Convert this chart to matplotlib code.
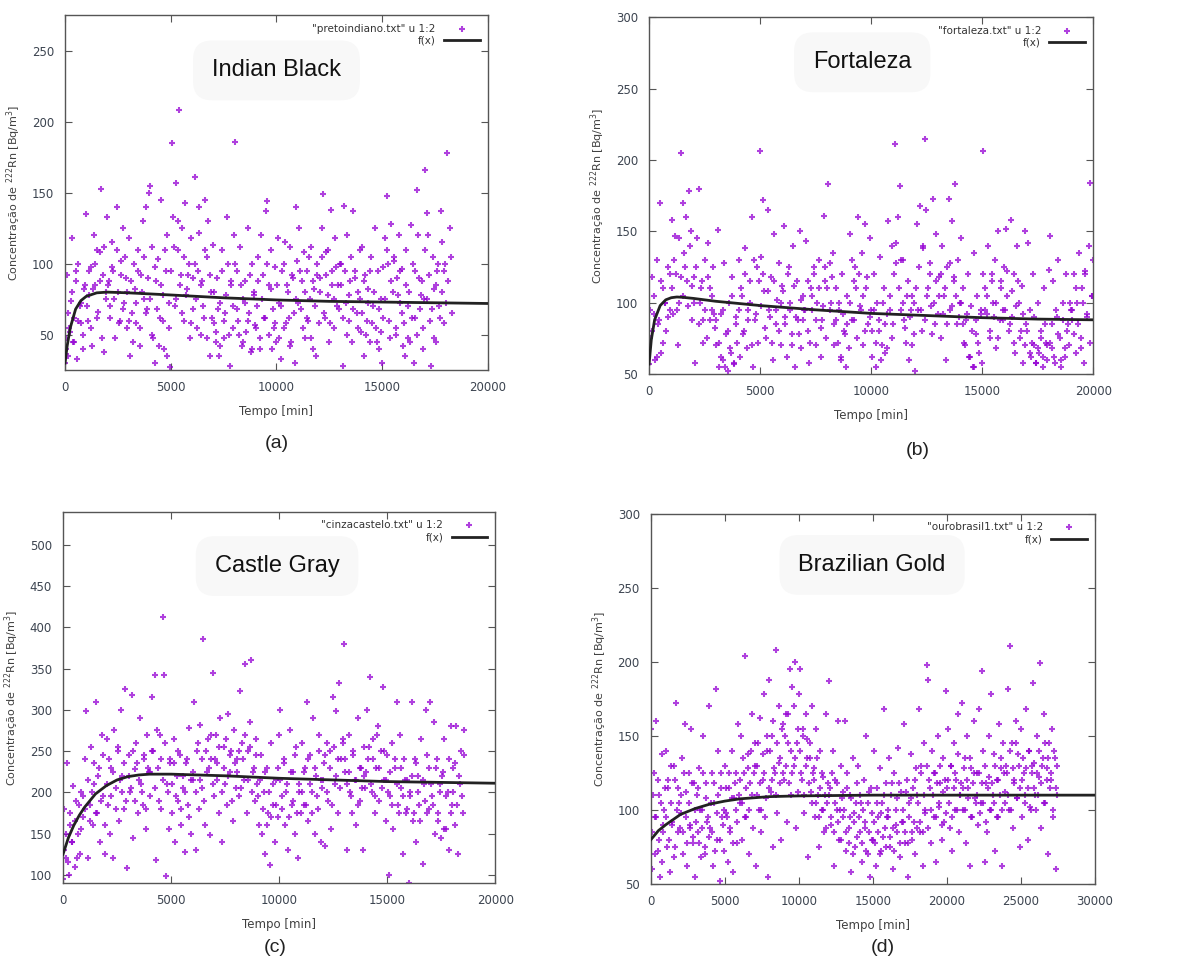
import numpy as np
import matplotlib
matplotlib.use('Agg')
import matplotlib.pyplot as plt

# ---------------- dados ----------------
# (a) Indian Black
ta = [0, 40, 90, 150, 200, 260, 320, 380, 430, 500, 560, 620, 690, 760, 840, 920,
      1010, 1080, 1150, 1220, 1290, 1360, 1430, 1500, 1570, 1640, 1710, 1780, 1850, 1930,
      2000, 2070, 2150, 2220, 2290, 2370, 2440, 2510, 2590, 2660, 2730, 2810, 2880, 2950,
      3020, 3090, 3160, 3240, 3310, 3380, 3450, 3530, 3600, 3670, 3740, 3820, 3890, 3960,
      4030, 4100, 4180, 4250, 4320, 4390, 4470, 4540, 4610, 4680, 4760, 4830, 4900, 4970,
      5040, 5110, 5190, 5260, 5330, 5400, 5480, 5550, 5620, 5690, 5770, 5840, 5910, 5980,
      6050, 6130, 6200, 6270, 6340, 6420, 6490, 6560, 6630, 6710, 6780, 6850, 6920, 6990,
      7060, 7140, 7210, 7280, 7350, 7430, 7500, 7570, 7640, 7720, 7790, 7860, 7930, 7990,
      8060, 8130, 8200, 8280, 8350, 8420, 8490, 8570, 8640, 8710, 8780, 8860, 8930, 8990,
      9060, 9140, 9210, 9280, 9350, 9430, 9500, 9570, 9640, 9720, 9790, 9860, 9930, 9990,
      10060, 10130, 10200, 10280, 10350, 10420, 10490, 10570, 10640, 10710, 10780, 10860, 10930, 10990,
      11060, 11140, 11210, 11280, 11350, 11430, 11500, 11570, 11640, 11720, 11790, 11860, 11930, 11990,
      12060, 12130, 12200, 12280, 12350, 12420, 12490, 12570, 12640, 12710, 12780, 12860, 12930, 12990,
      13060, 13140, 13210, 13280, 13350, 13430, 13500, 13570, 13640, 13720, 13790, 13860, 13930, 13990,
      14060, 14130, 14200, 14280, 14350, 14420, 14490, 14570, 14640, 14710, 14780, 14860, 14930, 14990,
      15060, 15140, 15210, 15280, 15350, 15430, 15500, 15570, 15640, 15720, 15790, 15860, 15930, 15990,
      16060, 16130, 16200, 16280, 16350, 16420, 16490, 16570, 16640, 16710, 16780, 16860, 16930, 16990,
      17040, 17110, 17180, 17250, 17320, 17400, 17470, 17540, 17610, 17690, 17760, 17830, 17900, 17970,
      18050, 18120, 18200, 18290]
ya = [30, 48, 92, 35, 55, 74, 118, 45, 62, 88, 33, 100, 70, 58, 40, 82,
      135, 60, 78, 98, 42, 120, 85, 110, 66, 108, 153, 92, 38, 75,
      133, 88, 70, 115, 95, 48, 140, 80, 60, 102, 125, 72, 90, 55,
      118, 35, 65, 100, 82, 58, 110, 42, 92, 130, 75, 140, 68, 150,
      155, 112, 48, 30, 88, 103, 62, 145, 78, 40, 95, 120, 55, 27,
      185, 133, 70, 157, 110, 208, 92, 125, 60, 143, 82, 100, 48, 118,
      90, 161, 75, 95, 140, 50, 88, 62, 145, 105, 130, 35, 80, 113,
      58, 45, 90, 35, 72, 110, 48, 65, 133, 100, 28, 85, 55, 120,
      186, 95, 60, 112, 42, 75, 88, 52, 125, 65, 38, 100, 80, 57,
      70, 105, 48, 120, 92, 62, 137, 144, 85, 110, 40, 55, 98, 45,
      118, 72, 33, 95, 55, 115, 85, 62, 112, 45, 90, 30, 140, 102,
      125, 68, 88, 108, 48, 95, 60, 75, 112, 40, 82, 35, 100, 58,
      90, 125, 149, 62, 108, 78, 45, 138, 95, 55, 118, 70, 85, 100,
      100, 28, 141, 72, 120, 60, 88, 45, 137, 95, 65, 80, 110, 52,
      112, 35, 92, 60, 82, 45, 105, 70, 125, 55, 95, 40, 75, 30,
      62, 118, 148, 100, 48, 128, 80, 105, 55, 90, 120, 72, 96, 42,
      35, 110, 48, 80, 127, 62, 30, 95, 152, 120, 68, 88, 40, 75,
      166, 136, 120, 60, 28, 105, 82, 45, 95, 70, 137, 115, 58, 100,
      178, 88, 125, 65]
ta2 = [35, 135, 235, 335, 435, 535, 635, 735, 835, 935,
       1035, 1135, 1235, 1335, 1435, 1535, 1635, 1735, 1835, 1935,
       2035, 2135, 2235, 2335, 2435, 2535, 2635, 2735, 2835, 2935,
       3035, 3135, 3235, 3335, 3435, 3535, 3635, 3735, 3835, 3935,
       4035, 4135, 4235, 4335, 4435, 4535, 4635, 4735, 4835, 4935,
       5035, 5135, 5235, 5335, 5435, 5535, 5635, 5735, 5835, 5935,
       6035, 6135, 6235, 6335, 6435, 6535, 6635, 6735, 6835, 6935,
       7035, 7135, 7235, 7335, 7435, 7535, 7635, 7735, 7835, 7935,
       8035, 8135, 8235, 8335, 8435, 8535, 8635, 8735, 8835, 8935,
       9035, 9135, 9235, 9335, 9435, 9535, 9635, 9735, 9835, 9935,
       10035, 10135, 10235, 10335, 10435, 10535, 10635, 10735, 10835, 10935,
       11035, 11135, 11235, 11335, 11435, 11535, 11635, 11735, 11835, 11935,
       12035, 12135, 12235, 12335, 12435, 12535, 12635, 12735, 12835, 12935,
       13035, 13135, 13235, 13335, 13435, 13535, 13635, 13735, 13835, 13935,
       14035, 14135, 14235, 14335, 14435, 14535, 14635, 14735, 14835, 14935,
       15035, 15135, 15235, 15335, 15435, 15535, 15635, 15735, 15835, 15935,
       16035, 16135, 16235, 16335, 16435, 16535, 16635, 16735, 16835, 16935,
       17035, 17135, 17235, 17335, 17435, 17535, 17635, 17735, 17835, 17935, 18035, 18235]
ya2 = [40, 65, 52, 80, 45, 95, 60, 72, 50, 85,
       70, 95, 55, 82, 100, 62, 88, 48, 112, 80,
       85, 62, 98, 75, 110, 58, 92, 68, 105, 80,
       60, 88, 45, 72, 95, 55, 80, 105, 65, 90,
       75, 50, 98, 68, 42, 85, 60, 110, 35, 72,
       95, 112, 75, 130, 85, 65, 105, 78, 92, 58,
       68, 100, 55, 122, 85, 70, 110, 48, 92, 62,
       80, 52, 68, 42, 95, 60, 78, 50, 88, 70,
       100, 68, 50, 85, 45, 72, 60, 92, 40, 78,
       55, 88, 40, 75, 62, 100, 50, 82, 68, 58,
       85, 48, 70, 100, 58, 80, 42, 92, 65, 75,
       72, 95, 55, 80, 62, 105, 48, 88, 70, 92,
       80, 105, 65, 92, 110, 58, 85, 75, 98, 68,
       85, 62, 95, 50, 78, 105, 68, 90, 55, 75,
       65, 88, 50, 72, 95, 58, 80, 45, 68, 52,
       98, 75, 110, 60, 88, 102, 50, 78, 95, 65,
       58, 85, 70, 45, 100, 62, 50, 90, 78, 55,
       110, 75, 92, 68, 48, 85, 100, 62, 80, 95, 72, 105]
fa_x = [0, 100, 250, 500, 750, 1000, 1500, 2000, 3000, 5000, 7500, 10000, 12500, 15000, 17500, 20000]
fa_y = [30, 42, 55, 68, 74, 77, 79.5, 80, 79.5, 78, 76, 74.5, 73.5, 73, 72.5, 72]

# (b) Fortaleza
tb = [0, 60, 130, 200, 270, 340, 410, 480, 550, 620, 700, 770, 840, 920,
      1010, 1080, 1150, 1230, 1300, 1370, 1440, 1510, 1590, 1660, 1730, 1800, 1870, 1950,
      2020, 2090, 2160, 2240, 2310, 2380, 2450, 2530, 2600, 2670, 2740, 2820, 2890, 2960,
      3030, 3100, 3170, 3250, 3320, 3390, 3460, 3540, 3610, 3680, 3750, 3830, 3900, 3970,
      4040, 4110, 4180, 4260, 4330, 4400, 4470, 4550, 4620, 4690, 4760, 4840, 4910, 4980,
      5050, 5120, 5190, 5270, 5340, 5410, 5480, 5560, 5630, 5700, 5770, 5850, 5920, 5990,
      6060, 6130, 6200, 6280, 6350, 6420, 6490, 6570, 6640, 6710, 6780, 6860, 6930, 6990,
      7060, 7140, 7210, 7280, 7350, 7430, 7500, 7570, 7640, 7720, 7790, 7860, 7930, 7990,
      8060, 8130, 8200, 8280, 8350, 8420, 8490, 8570, 8640, 8710, 8780, 8860, 8930, 8990,
      9060, 9140, 9210, 9280, 9350, 9430, 9500, 9570, 9640, 9720, 9790, 9860, 9930, 9990,
      10060, 10130, 10200, 10280, 10350, 10420, 10490, 10570, 10640, 10710, 10780, 10860, 10930, 10990,
      11060, 11140, 11210, 11280, 11350, 11430, 11500, 11570, 11640, 11720, 11790, 11860, 11930, 11990,
      12060, 12130, 12200, 12280, 12350, 12420, 12490, 12570, 12640, 12710, 12780, 12860, 12930, 12990,
      13060, 13140, 13210, 13280, 13350, 13430, 13500, 13570, 13640, 13720, 13790, 13860, 13930, 13990,
      14060, 14130, 14200, 14280, 14350, 14420, 14490, 14570, 14640, 14710, 14780, 14860, 14930, 14990,
      15060, 15140, 15210, 15280, 15350, 15430, 15500, 15570, 15640, 15720, 15790, 15860, 15930, 15990,
      16060, 16130, 16200, 16280, 16350, 16420, 16490, 16570, 16640, 16710, 16780, 16860, 16930, 16990,
      17060, 17140, 17210, 17280, 17350, 17430, 17500, 17570, 17640, 17720, 17790, 17860, 17930, 17990,
      18060, 18130, 18200, 18280, 18350, 18420, 18490, 18570, 18640, 18710, 18780, 18860, 18930, 18990,
      19060, 19140, 19210, 19280, 19350, 19430, 19500, 19570, 19640, 19720, 19790, 19860, 19930, 19990]
yb = [57, 75, 118, 92, 60, 130, 85, 170, 65, 110, 100, 80, 125, 95,
      158, 92, 147, 120, 70, 100, 205, 170, 135, 160, 115, 178, 150, 88,
      118, 58, 145, 180, 100, 115, 88, 130, 75, 142, 110, 95, 125, 82,
      70, 151, 55, 92, 60, 128, 78, 52, 100, 65, 118, 57, 85, 72,
      130, 62, 105, 80, 138, 68, 95, 115, 160, 55, 88, 125, 72, 206,
      132, 172, 108, 75, 165, 95, 118, 60, 148, 85, 102, 128, 70, 112,
      154, 90, 62, 125, 100, 78, 140, 55, 115, 88, 150, 68, 105, 95,
      143, 80, 58, 110, 95, 125, 70, 100, 130, 62, 88, 161, 115, 75,
      183, 128, 100, 135, 85, 110, 72, 95, 60, 120, 80, 55, 105, 68,
      148, 88, 115, 125, 75, 160, 98, 135, 70, 155, 110, 85, 145, 95,
      62, 120, 55, 100, 80, 132, 70, 110, 65, 92, 157, 105, 140, 85,
      211, 128, 160, 182, 130, 100, 88, 72, 115, 60, 95, 105, 78, 52,
      155, 95, 168, 80, 140, 215, 165, 110, 128, 98, 173, 85, 148, 92,
      118, 75, 140, 105, 60, 125, 173, 95, 157, 115, 183, 85, 130, 100,
      145, 110, 72, 88, 120, 62, 98, 55, 135, 78, 105, 65, 92, 58,
      206, 110, 92, 140, 75, 120, 100, 130, 68, 150, 88, 115, 95, 125,
      152, 105, 80, 158, 90, 120, 65, 140, 100, 75, 112, 58, 150, 85,
      142, 95, 62, 120, 70, 58, 100, 65, 80, 55, 110, 72, 60, 123,
      147, 68, 115, 58, 90, 130, 75, 55, 100, 62, 120, 85, 70, 95,
      88, 120, 65, 100, 135, 75, 110, 58, 122, 92, 140, 184, 105, 130]
tb2 = [35, 135, 235, 335, 435, 535, 635, 735, 835, 935,
       1035, 1135, 1235, 1335, 1435, 1535, 1635, 1735, 1835, 1935,
       2035, 2135, 2235, 2335, 2435, 2535, 2635, 2735, 2835, 2935,
       3035, 3135, 3235, 3335, 3435, 3535, 3635, 3735, 3835, 3935,
       4035, 4135, 4235, 4335, 4435, 4535, 4635, 4735, 4835, 4935,
       5035, 5135, 5235, 5335, 5435, 5535, 5635, 5735, 5835, 5935,
       6035, 6135, 6235, 6335, 6435, 6535, 6635, 6735, 6835, 6935,
       7035, 7135, 7235, 7335, 7435, 7535, 7635, 7735, 7835, 7935,
       8035, 8135, 8235, 8335, 8435, 8535, 8635, 8735, 8835, 8935,
       9035, 9135, 9235, 9335, 9435, 9535, 9635, 9735, 9835, 9935,
       10035, 10135, 10235, 10335, 10435, 10535, 10635, 10735, 10835, 10935,
       11035, 11135, 11235, 11335, 11435, 11535, 11635, 11735, 11835, 11935,
       12035, 12135, 12235, 12335, 12435, 12535, 12635, 12735, 12835, 12935,
       13035, 13135, 13235, 13335, 13435, 13535, 13635, 13735, 13835, 13935,
       14035, 14135, 14235, 14335, 14435, 14535, 14635, 14735, 14835, 14935,
       15035, 15135, 15235, 15335, 15435, 15535, 15635, 15735, 15835, 15935,
       16035, 16135, 16235, 16335, 16435, 16535, 16635, 16735, 16835, 16935,
       17035, 17135, 17235, 17335, 17435, 17535, 17635, 17735, 17835, 17935,
       18035, 18135, 18235, 18335, 18435, 18535, 18635, 18735, 18835, 18935,
       19035, 19135, 19235, 19335, 19435, 19535, 19635, 19735, 19835, 19935]
yb2 = [95, 80, 105, 62, 88, 115, 72, 100, 90, 120,
       110, 130, 95, 145, 118, 105, 125, 98, 140, 112,
       100, 125, 85, 110, 72, 95, 118, 88, 105, 92,
       88, 72, 62, 95, 55, 80, 68, 105, 58, 90,
       95, 110, 78, 120, 88, 100, 70, 130, 92, 115,
       98, 120, 82, 108, 90, 72, 115, 95, 80, 100,
       108, 85, 120, 95, 70, 112, 90, 78, 102, 88,
       95, 115, 72, 105, 120, 88, 110, 82, 98, 125,
       110, 95, 118, 70, 88, 100, 62, 92, 78, 85,
       100, 130, 88, 110, 120, 95, 105, 80, 118, 90,
       80, 95, 72, 88, 60, 100, 85, 68, 95, 75,
       120, 142, 110, 95, 130, 82, 105, 90, 70, 100,
       110, 125, 95, 138, 88, 105, 120, 78, 100, 115,
       105, 120, 92, 110, 85, 128, 98, 118, 105, 90,
       100, 85, 70, 92, 62, 80, 55, 88, 72, 95,
       120, 95, 105, 80, 115, 90, 100, 75, 110, 88,
       95, 122, 85, 108, 72, 98, 115, 80, 92, 70,
       80, 65, 72, 90, 58, 68, 75, 62, 85, 70,
       72, 85, 62, 95, 78, 60, 88, 68, 80, 100,
       95, 78, 110, 85, 68, 100, 120, 90, 72, 105]
fb_x = [0, 100, 250, 500, 750, 1000, 1250, 1500, 2000, 3000, 5000, 7500, 10000, 12500, 15000, 17500, 20000]
fb_y = [57, 74, 88, 98, 102, 103.5, 104, 103.8, 103, 101, 98, 95, 92.5, 91, 89.5, 88.5, 88]

# (c) Castle Gray
tc = [0, 60, 130, 200, 270, 340, 410, 480, 550, 620, 700, 770, 840, 920,
      1010, 1080, 1150, 1230, 1300, 1370, 1440, 1510, 1590, 1660, 1730, 1800, 1870, 1950,
      2020, 2090, 2160, 2240, 2310, 2380, 2450, 2530, 2600, 2670, 2740, 2820, 2890, 2960,
      3030, 3100, 3170, 3250, 3320, 3390, 3460, 3540, 3610, 3680, 3750, 3830, 3900, 3970,
      4040, 4110, 4180, 4250, 4320, 4390, 4470, 4540, 4610, 4680, 4760, 4830, 4900, 4970,
      5050, 5120, 5190, 5270, 5340, 5410, 5480, 5560, 5630, 5700, 5770, 5850, 5920, 5990,
      6060, 6130, 6200, 6280, 6350, 6420, 6490, 6570, 6640, 6710, 6780, 6850, 6920, 6990,
      7060, 7140, 7210, 7280, 7350, 7430, 7500, 7570, 7640, 7720, 7790, 7860, 7930, 7990,
      8060, 8130, 8200, 8280, 8350, 8420, 8490, 8570, 8640, 8710, 8780, 8860, 8930, 8990,
      9060, 9140, 9210, 9280, 9350, 9430, 9500, 9570, 9640, 9720, 9790, 9860, 9930, 9990,
      10060, 10130, 10200, 10280, 10350, 10420, 10490, 10570, 10640, 10710, 10780, 10860, 10930, 10990,
      11060, 11140, 11210, 11280, 11350, 11430, 11500, 11570, 11640, 11720, 11790, 11860, 11930, 11990,
      12060, 12130, 12200, 12280, 12350, 12420, 12490, 12570, 12640, 12710, 12780, 12860, 12930, 12990,
      13060, 13140, 13210, 13280, 13350, 13430, 13500, 13570, 13640, 13720, 13790, 13860, 13930, 13990,
      14060, 14130, 14200, 14280, 14350, 14420, 14490, 14570, 14640, 14710, 14780, 14860, 14930, 14990,
      15060, 15140, 15210, 15280, 15350, 15430, 15500, 15570, 15640, 15720, 15790, 15860, 15930, 15990,
      16060, 16130, 16200, 16280, 16350, 16420, 16490, 16570, 16640, 16710, 16780, 16860, 16930, 16990,
      17060, 17140, 17210, 17280, 17350, 17430, 17500, 17570, 17640, 17720, 17790, 17860, 17930, 17990,
      18060, 18130, 18200, 18280, 18350, 18420, 18490, 18560]
yc = [95, 180, 120, 235, 100, 160, 140, 208, 110, 190, 150, 125, 200, 170,
      240, 298, 120, 185, 255, 160, 210, 310, 175, 230, 140, 270, 195, 125,
      265, 185, 150, 230, 120, 275, 205, 250, 165, 300, 220, 180, 325, 108,
      245, 200, 318, 145, 228, 260, 175, 290, 210, 185, 240, 155, 270, 225,
      195, 315, 250, 342, 118, 230, 270, 180, 413, 342, 98, 210, 155, 240,
      175, 265, 140, 220, 190, 245, 160, 205, 128, 235, 185, 278, 150, 215,
      310, 130, 250, 180, 282, 205, 386, 160, 225, 265, 148, 240, 345, 195,
      270, 235, 175, 290, 140, 255, 210, 185, 295, 225, 250, 165, 275, 205,
      240, 195, 323, 260, 215, 355, 175, 250, 285, 360, 225, 190, 265, 210,
      160, 245, 150, 200, 125, 230, 175, 112, 260, 185, 140, 215, 170, 270,
      300, 195, 240, 160, 210, 130, 275, 185, 225, 150, 255, 120, 200, 175,
      260, 185, 230, 310, 165, 245, 200, 290, 150, 220, 180, 270, 140, 205,
      235, 135, 260, 190, 250, 155, 315, 210, 298, 175, 333, 240, 265, 380,
      225, 130, 270, 200, 175, 245, 215, 160, 290, 190, 230, 130, 255, 205,
      300, 240, 340, 200, 265, 175, 230, 280, 190, 250, 328, 215, 165, 245,
      100, 195, 260, 155, 230, 310, 185, 270, 205, 125, 240, 175, 215, 90,
      200, 310, 165, 240, 140, 220, 185, 265, 113, 210, 300, 175, 230, 310,
      195, 285, 150, 240, 175, 210, 145, 225, 265, 155, 200, 130, 280, 185,
      230, 160, 280, 125, 210, 250, 175, 275]
tc2 = [35, 135, 235, 335, 435, 535, 635, 735, 835, 935,
       1035, 1135, 1235, 1335, 1435, 1535, 1635, 1735, 1835, 1935,
       2035, 2135, 2235, 2335, 2435, 2535, 2635, 2735, 2835, 2935,
       3035, 3135, 3235, 3335, 3435, 3535, 3635, 3735, 3835, 3935,
       4035, 4135, 4235, 4335, 4435, 4535, 4635, 4735, 4835, 4935,
       5035, 5135, 5235, 5335, 5435, 5535, 5635, 5735, 5835, 5935,
       6035, 6135, 6235, 6335, 6435, 6535, 6635, 6735, 6835, 6935,
       7035, 7135, 7235, 7335, 7435, 7535, 7635, 7735, 7835, 7935,
       8035, 8135, 8235, 8335, 8435, 8535, 8635, 8735, 8835, 8935,
       9035, 9135, 9235, 9335, 9435, 9535, 9635, 9735, 9835, 9935,
       10035, 10135, 10235, 10335, 10435, 10535, 10635, 10735, 10835, 10935,
       11035, 11135, 11235, 11335, 11435, 11535, 11635, 11735, 11835, 11935,
       12035, 12135, 12235, 12335, 12435, 12535, 12635, 12735, 12835, 12935,
       13035, 13135, 13235, 13335, 13435, 13535, 13635, 13735, 13835, 13935,
       14035, 14135, 14235, 14335, 14435, 14535, 14635, 14735, 14835, 14935,
       15035, 15135, 15235, 15335, 15435, 15535, 15635, 15735, 15835, 15935,
       16035, 16135, 16235, 16335, 16435, 16535, 16635, 16735, 16835, 16935,
       17035, 17135, 17235, 17335, 17435, 17535, 17635, 17735, 17835, 17935,
       18035, 18135, 18235, 18335, 18435, 18535]
yc2 = [130, 150, 115, 175, 140, 165, 120, 185, 155, 195,
       180, 215, 165, 200, 235, 175, 220, 190, 245, 160,
       210, 240, 195, 225, 180, 255, 215, 200, 235, 190,
       220, 205, 250, 190, 235, 215, 200, 245, 180, 230,
       225, 250, 205, 275, 190, 240, 215, 260, 200, 235,
       210, 235, 195, 250, 180, 220, 200, 240, 170, 215,
       225, 200, 260, 215, 240, 190, 250, 230, 270, 210,
       240, 215, 255, 200, 230, 265, 220, 245, 190, 235,
       225, 250, 205, 240, 270, 215, 255, 200, 230, 245,
       195, 215, 180, 225, 160, 200, 170, 210, 185, 230,
       215, 180, 235, 200, 170, 225, 190, 245, 175, 210,
       200, 225, 185, 240, 210, 175, 230, 195, 250, 215,
       215, 245, 200, 230, 185, 255, 220, 240, 205, 260,
       240, 210, 225, 195, 250, 215, 185, 230, 205, 220,
       225, 255, 210, 240, 195, 270, 230, 205, 250, 215,
       200, 225, 185, 240, 210, 175, 230, 195, 215, 180,
       195, 220, 175, 235, 200, 165, 215, 190, 245, 180,
       210, 185, 230, 165, 200, 220, 155, 195, 240, 175,
       200, 235, 185, 220, 195, 245]
fc_x = [0, 250, 500, 750, 1000, 1500, 2000, 2500, 3000, 3500, 4000, 5000, 7500, 10000, 12500, 15000, 17500, 20000]
fc_y = [125, 145, 160, 172, 182, 198, 208, 215, 219, 221, 222, 222, 220, 217, 215, 213, 212, 211]

# (d) Brazilian Gold
td = [0, 90, 180, 270, 360, 450, 540, 630, 720, 810, 900,
      1000, 1090, 1180, 1270, 1360, 1450, 1540, 1630, 1720, 1810, 1900,
      2000, 2090, 2180, 2270, 2360, 2450, 2540, 2630, 2720, 2810, 2900,
      3000, 3090, 3180, 3270, 3360, 3450, 3540, 3630, 3720, 3810, 3900,
      4000, 4090, 4180, 4270, 4360, 4450, 4540, 4630, 4720, 4810, 4900,
      5000, 5090, 5180, 5270, 5360, 5450, 5540, 5630, 5720, 5810, 5900,
      6000, 6090, 6180, 6270, 6360, 6450, 6540, 6630, 6720, 6810, 6900,
      7000, 7090, 7180, 7270, 7360, 7450, 7540, 7630, 7720, 7810, 7900,
      8000, 8090, 8180, 8270, 8360, 8450, 8540, 8630, 8720, 8810, 8900,
      9000, 9090, 9180, 9270, 9360, 9450, 9540, 9630, 9720, 9810, 9900,
      10000, 10090, 10180, 10270, 10360, 10450, 10540, 10630, 10720, 10810, 10900,
      11000, 11090, 11180, 11270, 11360, 11450, 11540, 11630, 11720, 11810, 11900,
      12000, 12090, 12180, 12270, 12360, 12450, 12540, 12630, 12720, 12810, 12900,
      13000, 13090, 13180, 13270, 13360, 13450, 13540, 13630, 13720, 13810, 13900,
      14000, 14090, 14180, 14270, 14360, 14450, 14540, 14630, 14720, 14810, 14900,
      15000, 15090, 15180, 15270, 15360, 15450, 15540, 15630, 15720, 15810, 15900,
      16000, 16090, 16180, 16270, 16360, 16450, 16540, 16630, 16720, 16810, 16900,
      17000, 17090, 17180, 17270, 17360, 17450, 17540, 17630, 17720, 17810, 17900,
      18000, 18090, 18180, 18270, 18360, 18450, 18540, 18630, 18720, 18810, 18900,
      19000, 19090, 19180, 19270, 19360, 19450, 19540, 19630, 19720, 19810, 19900,
      20000, 20090, 20180, 20270, 20360, 20450, 20540, 20630, 20720, 20810, 20900,
      21000, 21090, 21180, 21270, 21360, 21450, 21540, 21630, 21720, 21810, 21900,
      22000, 22090, 22180, 22270, 22360, 22450, 22540, 22630, 22720, 22810, 22900,
      23000, 23090, 23180, 23270, 23360, 23450, 23540, 23630, 23720, 23810, 23900,
      24000, 24090, 24180, 24270, 24360, 24450, 24540, 24630, 24720, 24810, 24900,
      25000, 25090, 25180, 25270, 25360, 25450, 25540, 25630, 25720, 25810, 25900,
      26000, 26090, 26180, 26270, 26360, 26450, 26540, 26630, 26720, 26810, 26900,
      27000, 27090, 27180, 27270, 27360, 27450]
yd = [155, 60, 125, 95, 160, 72, 110, 55, 138, 85, 100,
      140, 75, 115, 58, 130, 92, 68, 120, 172, 85, 105,
      98, 135, 70, 158, 112, 62, 125, 88, 155, 78, 118,
      55, 110, 85, 128, 68, 100, 150, 75, 118, 92, 170,
      88, 125, 62, 105, 182, 80, 140, 52, 115, 95, 72,
      130, 98, 65, 115, 85, 140, 58, 108, 125, 78, 158,
      105, 150, 80, 125, 204, 95, 138, 70, 118, 165, 88,
      145, 62, 130, 100, 162, 85, 120, 178, 95, 140, 55,
      188, 112, 150, 75, 125, 208, 98, 170, 135, 80, 158,
      120, 165, 92, 145, 195, 110, 183, 130, 200, 88, 155,
      178, 195, 120, 150, 98, 165, 135, 68, 145, 112, 170,
      128, 95, 155, 110, 75, 140, 100, 122, 85, 165, 105,
      187, 115, 90, 140, 62, 120, 100, 160, 80, 130, 108,
      95, 160, 72, 125, 88, 110, 58, 135, 98, 75, 118,
      130, 85, 105, 65, 120, 92, 150, 70, 112, 55, 98,
      80, 140, 62, 115, 95, 128, 72, 105, 168, 88, 118,
      100, 135, 75, 118, 60, 125, 90, 108, 142, 68, 112,
      92, 158, 78, 120, 55, 105, 138, 85, 115, 70, 128,
      110, 168, 85, 130, 62, 145, 100, 198, 188, 120, 78,
      140, 95, 125, 65, 150, 105, 118, 80, 135, 92, 180,
      115, 155, 88, 130, 72, 145, 100, 120, 165, 85, 110,
      172, 100, 135, 78, 150, 115, 62, 128, 95, 160, 108,
      125, 90, 168, 105, 194, 140, 65, 118, 85, 150, 100,
      178, 110, 138, 72, 120, 95, 158, 128, 62, 145, 105,
      130, 182, 100, 211, 145, 88, 120, 160, 108, 138, 75,
      155, 95, 125, 110, 168, 80, 140, 102, 130, 186, 115,
      100, 150, 122, 199, 88, 135, 165, 105, 128, 70, 145,
      120, 155, 95, 135, 60, 110]
td2 = [45, 145, 245, 345, 445, 545, 645, 745, 845, 945,
       1045, 1145, 1245, 1345, 1445, 1545, 1645, 1745, 1845, 1945,
       2045, 2145, 2245, 2345, 2445, 2545, 2645, 2745, 2845, 2945,
       3045, 3145, 3245, 3345, 3445, 3545, 3645, 3745, 3845, 3945,
       4045, 4145, 4245, 4345, 4445, 4545, 4645, 4745, 4845, 4945,
       5045, 5145, 5245, 5345, 5445, 5545, 5645, 5745, 5845, 5945,
       6045, 6145, 6245, 6345, 6445, 6545, 6645, 6745, 6845, 6945,
       7045, 7145, 7245, 7345, 7445, 7545, 7645, 7745, 7845, 7945,
       8045, 8145, 8245, 8345, 8445, 8545, 8645, 8745, 8845, 8945,
       9045, 9145, 9245, 9345, 9445, 9545, 9645, 9745, 9845, 9945,
       10045, 10145, 10245, 10345, 10445, 10545, 10645, 10745, 10845, 10945,
       11045, 11145, 11245, 11345, 11445, 11545, 11645, 11745, 11845, 11945,
       12045, 12145, 12245, 12345, 12445, 12545, 12645, 12745, 12845, 12945,
       13045, 13145, 13245, 13345, 13445, 13545, 13645, 13745, 13845, 13945,
       14045, 14145, 14245, 14345, 14445, 14545, 14645, 14745, 14845, 14945,
       15045, 15145, 15245, 15345, 15445, 15545, 15645, 15745, 15845, 15945,
       16045, 16145, 16245, 16345, 16445, 16545, 16645, 16745, 16845, 16945,
       17045, 17145, 17245, 17345, 17445, 17545, 17645, 17745, 17845, 17945,
       18045, 18145, 18245, 18345, 18445, 18545, 18645, 18745, 18845, 18945,
       19045, 19145, 19245, 19345, 19445, 19545, 19645, 19745, 19845, 19945,
       20045, 20145, 20245, 20345, 20445, 20545, 20645, 20745, 20845, 20945,
       21045, 21145, 21245, 21345, 21445, 21545, 21645, 21745, 21845, 21945,
       22045, 22145, 22245, 22345, 22445, 22545, 22645, 22745, 22845, 22945,
       23045, 23145, 23245, 23345, 23445, 23545, 23645, 23745, 23845, 23945,
       24045, 24145, 24245, 24345, 24445, 24545, 24645, 24745, 24845, 24945,
       25045, 25145, 25245, 25345, 25445, 25545, 25645, 25745, 25845, 25945,
       26045, 26145, 26245, 26345, 26445, 26545, 26645, 26745, 26845, 26945,
       27035, 27135, 27235, 27335, 27435]
yd2 = [85, 110, 70, 95, 120, 80, 105, 65, 90, 115,
       95, 120, 80, 105, 90, 130, 75, 100, 115, 88,
       110, 85, 125, 95, 78, 105, 90, 118, 82, 100,
       92, 115, 78, 100, 88, 125, 70, 108, 95, 82,
       105, 85, 118, 72, 98, 110, 80, 125, 90, 100,
       115, 95, 125, 88, 108, 78, 118, 100, 92, 110,
       120, 105, 135, 95, 115, 128, 100, 140, 110, 125,
       130, 110, 145, 118, 100, 138, 125, 108, 150, 115,
       140, 120, 160, 128, 110, 145, 132, 118, 155, 125,
       150, 130, 165, 118, 140, 125, 170, 135, 145, 112,
       140, 125, 155, 110, 130, 148, 118, 135, 105, 125,
       120, 105, 135, 95, 115, 125, 100, 110, 88, 118,
       110, 95, 125, 85, 105, 118, 92, 100, 80, 112,
       100, 85, 115, 78, 95, 108, 70, 92, 105, 82,
       95, 110, 78, 100, 88, 72, 105, 85, 115, 80,
       92, 78, 105, 85, 70, 98, 82, 110, 75, 95,
       95, 82, 110, 88, 72, 100, 85, 118, 78, 92,
       100, 85, 112, 78, 95, 108, 80, 92, 120, 88,
       105, 92, 125, 85, 110, 98, 130, 88, 115, 100,
       110, 125, 95, 118, 102, 130, 90, 112, 120, 98,
       120, 105, 130, 95, 115, 125, 100, 138, 110, 118,
       115, 128, 100, 120, 108, 135, 95, 118, 125, 105,
       110, 125, 98, 118, 105, 130, 92, 115, 122, 100,
       118, 105, 130, 95, 120, 110, 135, 100, 125, 112,
       125, 110, 140, 100, 128, 118, 145, 108, 130, 115,
       120, 135, 105, 128, 115, 140, 100, 125, 132, 110,
       125, 110, 140, 118, 130, 105, 145, 120, 135, 115,
       125, 100, 140, 115, 130]
fd_x = [0, 500, 1000, 2000, 3000, 4000, 5000, 6000, 8000, 10000, 15000, 20000, 25000, 30000]
fd_y = [80, 86, 90, 97, 101, 104, 106, 107.5, 109, 109.5, 110, 110, 110, 110]

titles = ['Indian Black', 'Fortaleza', 'Castle Gray', 'Brazilian Gold']
files = ['"pretoindiano.txt" u 1:2', '"fortaleza.txt" u 1:2',
         '"cinzacastelo.txt" u 1:2', '"ourobrasil1.txt" u 1:2']
letters = ['(a)', '(b)', '(c)', '(d)']
ylims = [(25, 275), (50, 300), (90, 540), (50, 300)]
yticks = [np.arange(50, 251, 50), np.arange(50, 301, 50),
          np.arange(100, 501, 50), np.arange(50, 301, 50)]
xmax = [20000, 20000, 20000, 30000]

series = [(ta + ta2, ya + ya2, fa_x, fa_y), (tb + tb2, yb + yb2, fb_x, fb_y),
          (tc + tc2, yc + yc2, fc_x, fc_y), (td + td2, yd + yd2, fd_x, fd_y)]

# posição de cada painel [left, bottom, width, height] em fração da figura
boxes = [[0.0552, 0.616, 0.359, 0.368],
         [0.551, 0.612, 0.377, 0.370],
         [0.0535, 0.084, 0.367, 0.385],
         [0.5526, 0.083, 0.377, 0.384]]
letter_pos = [(0.235, 0.540), (0.779, 0.533), (0.234, 0.017), (0.749, 0.017)]
title_pos = [(0.50, 0.845), (0.48, 0.874), (0.495, 0.854), (0.498, 0.862)]

purple = '#9400d3'
tick_color = '#3c4450'

fig = plt.figure(figsize=(11.78, 9.64), dpi=100)

for i in range(4):
    ax = fig.add_axes(boxes[i])
    t, y, fx, fy = series[i]
    ax.scatter(t, y, marker='+', s=22, linewidths=1.5, color=purple,
               alpha=0.75, label=files[i], zorder=2)
    ax.plot(fx, fy, color='#222222', lw=2, label='f(x)', zorder=3)

    ax.set_xlim(0, xmax[i])
    ax.set_ylim(*ylims[i])
    ax.set_yticks(yticks[i])
    ax.set_xticks(np.arange(0, xmax[i] + 1, 5000))
    ax.tick_params(direction='in', top=True, right=True, length=5,
                   labelsize=8.5, labelcolor=tick_color, color='#555555', pad=8)
    for sp in ax.spines.values():
        sp.set_color('#555555')
        sp.set_linewidth(1.0)

    ax.set_xlabel('Tempo [min]', fontsize=8.5, color='#404040', labelpad=8)
    ax.set_ylabel('Concentração de $^{222}$Rn [Bq/m$^3$]', fontsize=8,
                  color='#404040', labelpad=6)

    leg = ax.legend(loc='upper right', frameon=False, markerfirst=False,
                    fontsize=7.5, handlelength=3.4, borderaxespad=0.4,
                    labelspacing=0.2)
    for txt in leg.get_texts():
        txt.set_color('#333333')

    ax.text(title_pos[i][0], title_pos[i][1], titles[i], transform=ax.transAxes,
            ha='center', va='center', fontsize=17, family='Liberation Sans',
            color='#111111', zorder=4,
            bbox=dict(boxstyle='round,pad=0.8', facecolor='#f8f8f8',
                      edgecolor='none'))

    fig.text(letter_pos[i][0], letter_pos[i][1], letters[i], ha='center',
             va='center', fontsize=14, family='Liberation Sans', color='#222222')

fig.savefig('out.png', dpi=100)
